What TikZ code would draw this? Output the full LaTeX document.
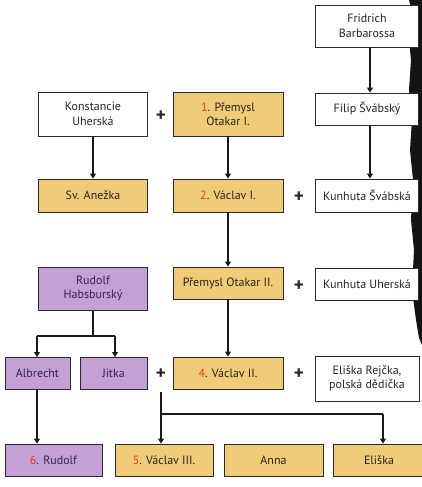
\documentclass[tikz,border=0pt]{standalone}
\usepackage{fontspec}
\setmainfont{PT Sans}
\usetikzlibrary{arrows.meta}
\definecolor{gold}{HTML}{F0CB78}
\definecolor{lilac}{HTML}{C4A0D6}
\definecolor{numred}{HTML}{E0401A}
\definecolor{txt}{HTML}{2A2218}
\definecolor{ptxt}{HTML}{35254A}
\definecolor{edge}{HTML}{2A2A2A}
\tikzset{
  box/.style={draw=edge, line width=0.9pt, inner sep=0pt, align=center, font=\fontsize{12}{14.5}\selectfont, text=txt},
  wbox/.style={box, fill=white, text=black!85},
  gbox/.style={box, fill=gold},
  pbox/.style={box, fill=lilac, text=ptxt},
  plus/.style={font=\fontsize{19}{19}\selectfont\bfseries, text=black!85, inner sep=0pt},
  link/.style={draw=black!90, line width=1.1pt},
  arr/.style={link, -{Triangle[length=5pt,width=6pt]}}
}
\newcommand{\nr}[1]{\textcolor{numred}{#1}}
\begin{document}
\begin{tikzpicture}[x=1pt,y=-1pt]
\useasboundingbox (0,0) rectangle (422,487);
\fill[white] (0,0) rectangle (422,487);
% dark torn edge of the scan
\fill[black!92] (409,0) -- (412,12) -- (408,30) -- (411,60) -- (409,90) -- (412,120) -- (410,150) -- (413,180) -- (411,220) -- (414,250) -- (412,290) -- (416,320) -- (419,338) -- (422,345) -- (422,0) -- cycle;

% nodes
\node[wbox, minimum width=103pt, minimum height=42pt] (fb) at (367,26) {Fridrich\\Barbarossa};
\node[wbox, minimum width=103pt, minimum height=32pt] (fs) at (367,109) {Filip Švábský};
\node[wbox, minimum width=103pt, minimum height=33pt] (ks) at (367,195.5) {Kunhuta Švábská};
\node[wbox, minimum width=103pt, minimum height=32pt] (ku) at (367,284) {Kunhuta Uherská};
\node[wbox, minimum width=104pt, minimum height=45pt] (er) at (367,378.5) {Eliška Rejčka,\\polská dědička};

\node[wbox, minimum width=109pt, minimum height=44pt] (ko) at (93,114) {Konstancie\\Uherská};
\node[gbox, minimum width=110pt, minimum height=44pt] (p1) at (228,114) {\nr{1}. Přemysl\\Otakar I.};
\node[gbox, minimum width=109pt, minimum height=33pt] (an) at (93,195.5) {Sv. Anežka};
\node[gbox, minimum width=110pt, minimum height=33pt] (v1) at (228,195.5) {\nr{2}. Václav I.};
\node[pbox, minimum width=109pt, minimum height=43pt] (rh) at (93,288.5) {Rudolf\\Habsburský};
\node[gbox, minimum width=110pt, minimum height=32pt] (p2) at (228,283) {Přemysl Otakar II.};
\node[pbox, minimum width=65pt, minimum height=32pt] (al) at (37.5,373) {Albrecht};
\node[pbox, minimum width=67pt, minimum height=32pt] (ji) at (113.5,373) {Jitka};
\node[gbox, minimum width=110pt, minimum height=32pt] (v2) at (228,373) {\nr{4}. Václav II.};
\node[pbox, minimum width=97pt, minimum height=32pt] (ru) at (53.5,460) {\nr{6}. Rudolf};
\node[gbox, minimum width=98pt, minimum height=32pt] (v3) at (164,460) {\nr{5}. Václav III.};
\node[gbox, minimum width=99pt, minimum height=32pt] (anna) at (273.5,460) {Anna};
\node[gbox, minimum width=92pt, minimum height=32pt] (el) at (379,460) {Eliška};

% plus signs
\node[plus] (m1) at (161,116) {+};
\node[plus] (m2) at (299,197) {+};
\node[plus] (m3) at (299,286) {+};
\node[plus] (m4) at (161,374) {+};
\node[plus] (m5) at (299,374) {+};

% connectors
\draw[arr] (fb.south -| 370,0) -- (fs.north -| 370,0);
\draw[arr] (fs.south -| 370,0) -- (ks.north -| 370,0);
\draw[arr] (ko.south) -- (an.north);
\draw[arr] (p1.south) -- (v1.north);
\draw[arr] (v1.south) -- (p2.north);
\draw[arr] (p2.south) -- (v2.north);

\coordinate (rj) at (93,336);
\draw[link] (rh.south) -- (rj);
\draw[link] (37,336) -- (115,336);
\draw[arr] (37,336) -- (37,357);
\draw[arr] (115,336) -- (115,357);
\draw[arr] (37,389) -- (ru.north -| 37,0);

\coordinate (mj) at (161,392);
\coordinate (mh) at (161,414);
\coordinate (me) at (383,414);
\draw[arr] (mj) -- (v3.north -| mj);
\draw[link] (mh) -- (me);
\draw[arr] (me) -- (el.north -| me);
\end{tikzpicture}
\end{document}
